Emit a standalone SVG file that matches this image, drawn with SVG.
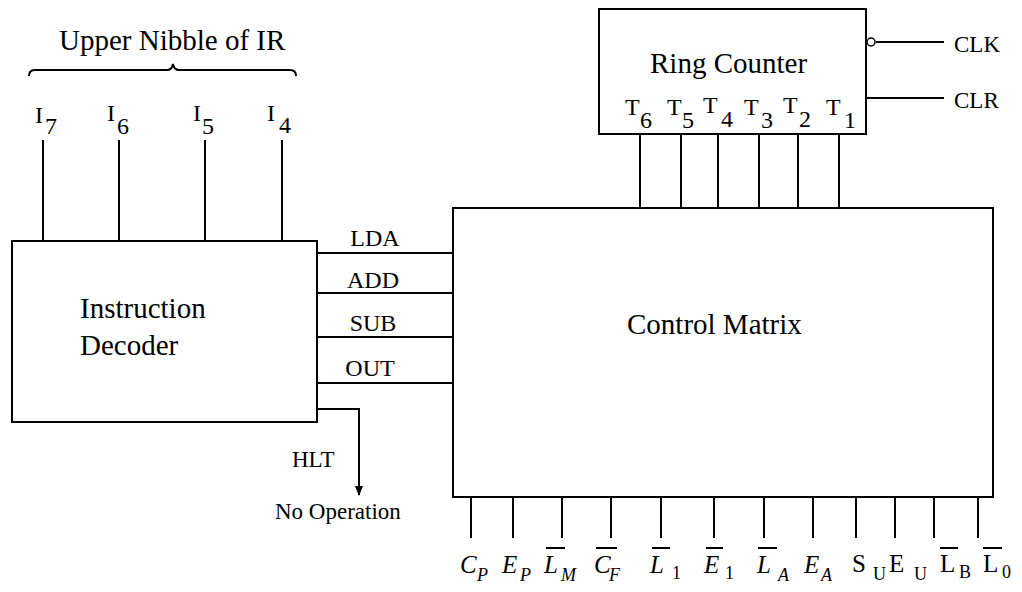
<svg xmlns="http://www.w3.org/2000/svg" width="1022" height="592" viewBox="0 0 1022 592">
<style>
.box{fill:#fff;stroke:#000;stroke-width:2}
.wire{fill:none;stroke:#000;stroke-width:2}
text{font-family:"Liberation Serif","Times New Roman",serif;fill:#000}
.hd{font-size:29px;font-family:"Liberation Serif",serif}
.lbl{font-size:23px}
.sig{font-size:24px}
.it{font-style:italic;font-size:25px}
.sub{font-size:18px}
.up{font-size:25px}
</style>
<defs>
<marker id="arrow" markerWidth="10" markerHeight="10" refX="9" refY="5" orient="auto" markerUnits="userSpaceOnUse">
<path d="M0,1 L10,5 L0,9 Z" fill="#000"/>
</marker>
</defs>
<rect width="1022" height="592" fill="#fff"/>

<g id="connectors">
<path class="wire" d="M43,140V241 M119,140V241 M205,140V241 M282,140V241"/>
<path class="wire" d="M640,134V208 M681,134V208 M718,134V208 M759,134V208 M798,134V208 M839,134V208"/>
<path class="wire" d="M317,253H453 M317,293H453 M317,337H453 M317,383H453"/>
<path class="wire" d="M317,409H359V495" marker-end="url(#arrow)"/>
<path class="wire" d="M876,42H944 M866,98H944"/>
<path class="wire" d="M471,497V538 M513,497V538 M562,497V538 M611,497V538 M661,497V538 M714,497V538 M764,497V538 M813,497V538 M856,497V538 M895,497V538 M934,497V538 M978,497V538"/>
</g>

<g id="upper-nibble">
<path class="wire" stroke-width="1.8" d="M29,76 Q29,70 35,70 H167 Q172,70 173,64 Q174,70 179,70 H290 Q296,70 296,76"/>
<text class="hd" x="59" y="50">Upper Nibble of IR</text>
</g>

<g id="ir-inputs" class="sig">
<text x="35" y="123">I</text><text x="45" y="134">7</text>
<text x="107" y="121">I</text><text x="117" y="134">6</text>
<text x="193" y="121">I</text><text x="202" y="134">5</text>
<text x="267" y="121">I</text><text x="279" y="133">4</text>
</g>

<g id="instruction-decoder">
<rect class="box" x="12" y="241" width="305" height="181"/>
<text class="hd" x="80" y="318">Instruction</text>
<text class="hd" x="80" y="355">Decoder</text>
</g>

<g id="decoder-outputs" class="sig" text-anchor="middle">
<text x="375" y="246">LDA</text>
<text x="373" y="288">ADD</text>
<text x="373" y="331">SUB</text>
<text x="370" y="376">OUT</text>
</g>

<g id="halt">
<text class="lbl" x="292" y="467">HLT</text>
<text class="lbl" x="275" y="519">No Operation</text>
</g>

<g id="ring-counter">
<rect class="box" x="599" y="9" width="267" height="125"/>
<text class="hd" x="650" y="73">Ring Counter</text>
<circle cx="871" cy="42" r="4" fill="#fff" stroke="#000" stroke-width="1.5"/>
<g class="sig">
<text x="625" y="115">T</text><text x="640" y="128">6</text>
<text x="667" y="115">T</text><text x="682" y="128">5</text>
<text x="703" y="113">T</text><text x="721" y="127">4</text>
<text x="744" y="115">T</text><text x="761" y="128">3</text>
<text x="783" y="113">T</text><text x="799" y="127">2</text>
<text x="826" y="115">T</text><text x="844" y="128">1</text>
</g>
</g>

<g id="clock-inputs" class="lbl">
<text x="954" y="52">CLK</text>
<text x="954" y="108">CLR</text>
</g>

<g id="control-matrix">
<rect class="box" x="453" y="208" width="540" height="289"/>
<text class="hd" x="627" y="334">Control Matrix</text>
</g>

<g id="control-outputs">
<path class="wire" stroke-width="1.5" d="M546,548H565 M596,548H617 M652,548H670 M706,548H723 M758,548H777 M940,548H958 M983,548H1002"/>
<text class="it" x="460" y="573">C</text><text class="it sub" x="477" y="581">P</text>
<text class="it" x="502" y="573">E</text><text class="it sub" x="520" y="581">P</text>
<text class="it" x="544" y="573">L</text><text class="it sub" x="561" y="581">M</text>
<text class="it" x="594" y="573">C</text><text class="it sub" x="609" y="581">F</text>
<text class="it" x="650" y="573">L</text><text class="sub" x="672" y="579" font-size="20">1</text>
<text class="it" x="704" y="573">E</text><text class="sub" x="725" y="579" font-size="20">1</text>
<text class="it" x="757" y="573">L</text><text class="it sub" x="778" y="581">A</text>
<text class="it" x="804" y="573">E</text><text class="it sub" x="821" y="581">A</text>
<text class="up" x="852" y="572">S</text><text class="sub" x="873" y="580">U</text>
<text class="up" x="889" y="572">E</text><text class="sub" x="914" y="580">U</text>
<text class="up" x="940" y="572">L</text><text class="sub" x="959" y="578">B</text>
<text class="up" x="983" y="572">L</text><text class="sub" x="1002" y="578">0</text>
</g>
</svg>
